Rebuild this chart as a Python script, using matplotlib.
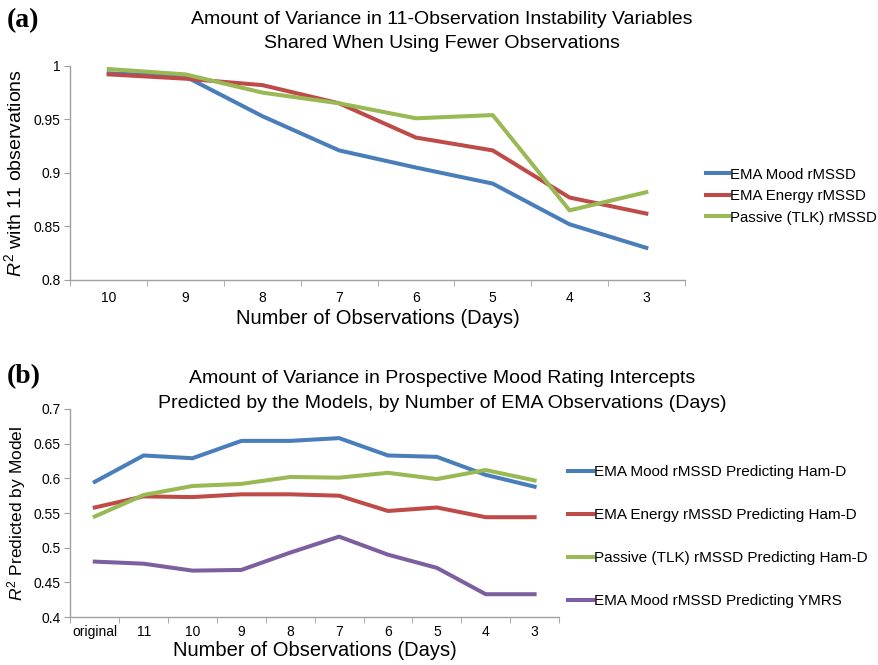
import numpy as np
import matplotlib
matplotlib.use("Agg")
import matplotlib.pyplot as plt

plt.rcParams['font.family'] = ['Liberation Sans', 'DejaVu Sans']
plt.rcParams['mathtext.fontset'] = 'custom'
plt.rcParams['mathtext.rm'] = 'Liberation Sans'
plt.rcParams['mathtext.it'] = 'Liberation Sans:italic'

# panel (a): R^2 with the full 11-observation variables
days_a = ['10', '9', '8', '7', '6', '5', '4', '3']
mood_a = [0.993, 0.990, 0.953, 0.921, 0.905, 0.890, 0.852, 0.830]
energy_a = [0.992, 0.988, 0.982, 0.965, 0.933, 0.921, 0.877, 0.862]
passive_a = [0.997, 0.992, 0.975, 0.965, 0.951, 0.954, 0.865, 0.882]

# panel (b): R^2 of mood rating intercepts predicted by the models
days_b = ['original', '11', '10', '9', '8', '7', '6', '5', '4', '3']
mood_hamd = [0.595, 0.633, 0.629, 0.654, 0.654, 0.658, 0.633, 0.631, 0.605, 0.588]
energy_hamd = [0.558, 0.574, 0.573, 0.577, 0.577, 0.575, 0.553, 0.558, 0.544, 0.544]
passive_hamd = [0.545, 0.576, 0.589, 0.592, 0.602, 0.601, 0.608, 0.599, 0.612, 0.597]
mood_ymrs = [0.480, 0.477, 0.467, 0.468, 0.493, 0.516, 0.490, 0.471, 0.433, 0.433]

BLUE = '#4a7ebb'
RED = '#be4b48'
GREEN = '#98b954'
PURPLE = '#7d5fa0'
LW = 2.9


def excel_axes(ax, labels, ylim, yticks, yfmt):
    n = len(labels)
    ax.set_xlim(-0.5, n - 0.5)
    ax.set_ylim(*ylim)
    ax.set_xticks(np.arange(n))
    ax.set_xticklabels(labels)
    ax.set_xticks(np.arange(n + 1) - 0.5, minor=True)
    ax.tick_params(axis='x', which='major', length=0, pad=8, labelsize=10)
    ax.tick_params(axis='x', which='minor', length=4, color='#a0a0a0')
    ax.set_yticks(yticks)
    ax.set_yticklabels([yfmt(v) for v in yticks])
    ax.tick_params(axis='y', length=4, color='#a0a0a0', labelsize=10, pad=3)
    for s in ['top', 'right']:
        ax.spines[s].set_visible(False)
    for s in ['left', 'bottom']:
        ax.spines[s].set_color('#a0a0a0')
        ax.spines[s].set_linewidth(1.0)


def fmt(v):
    s = ('%.2f' % v).rstrip('0').rstrip('.')
    return s


fig = plt.figure(figsize=(8.79, 6.65), dpi=100)

# ---------- (a)
ax1 = fig.add_axes([0.080, 0.579, 0.699, 0.322])
x = np.arange(len(days_a))
ax1.plot(x, mood_a, color=BLUE, lw=LW, label='EMA Mood rMSSD')
ax1.plot(x, energy_a, color=RED, lw=LW, label='EMA Energy rMSSD')
ax1.plot(x, passive_a, color=GREEN, lw=LW, label='Passive (TLK) rMSSD')
excel_axes(ax1, days_a, (0.8, 1.0), [0.8, 0.85, 0.9, 0.95, 1.0], fmt)
ax1.set_xlabel('Number of Observations (Days)', fontsize=14.5, labelpad=3)
ax1.set_ylabel(r'$R^2$ with 11 observations', fontsize=14, labelpad=6)
ax1.legend(loc='center left', bbox_to_anchor=(0.795, 0.705), bbox_transform=fig.transFigure,
           frameon=False, fontsize=10.8, handlelength=1.5, handletextpad=0.1,
           labelspacing=0.5, borderpad=0)
fig.text(0.503, 0.984, 'Amount of Variance in 11-Observation Instability Variables\n'
         'Shared When Using Fewer Observations', ha='center', va='top',
         fontsize=14, linespacing=1.6)
fig.text(0.008, 0.988, '(a)', ha='left', va='top', fontsize=20, fontweight='bold',
         family='Liberation Serif')

# ---------- (b)
ax2 = fig.add_axes([0.080, 0.072, 0.556, 0.313])
x = np.arange(len(days_b))
ax2.plot(x, mood_hamd, color=BLUE, lw=LW, label='EMA Mood rMSSD Predicting Ham-D')
ax2.plot(x, energy_hamd, color=RED, lw=LW, label='EMA Energy rMSSD Predicting Ham-D')
ax2.plot(x, passive_hamd, color=GREEN, lw=LW, label='Passive (TLK) rMSSD Predicting Ham-D')
ax2.plot(x, mood_ymrs, color=PURPLE, lw=LW, label='EMA Mood rMSSD Predicting YMRS')
excel_axes(ax2, days_b, (0.4, 0.7), [0.4, 0.45, 0.5, 0.55, 0.6, 0.65, 0.7], fmt)
ax2.tick_params(axis='x', which='major', pad=6)
ax2.set_xlabel('Number of Observations (Days)', fontsize=14.5, labelpad=1)
ax2.set_ylabel(r'$R^2$ Predicted by Model', fontsize=12.5, labelpad=4)
ax2.legend(loc='center left', bbox_to_anchor=(0.638, 0.193), bbox_transform=fig.transFigure,
           frameon=False, fontsize=11, handlelength=1.6, handletextpad=0.1,
           labelspacing=1.9, borderpad=0)
fig.text(0.503, 0.443, 'Amount of Variance in Prospective Mood Rating Intercepts\n'
         'Predicted by the Models, by Number of EMA Observations (Days)', ha='center',
         va='top', fontsize=14, linespacing=1.6)
fig.text(0.008, 0.452, '(b)', ha='left', va='top', fontsize=20, fontweight='bold',
         family='Liberation Serif')

fig.savefig('out.png', dpi=100)
